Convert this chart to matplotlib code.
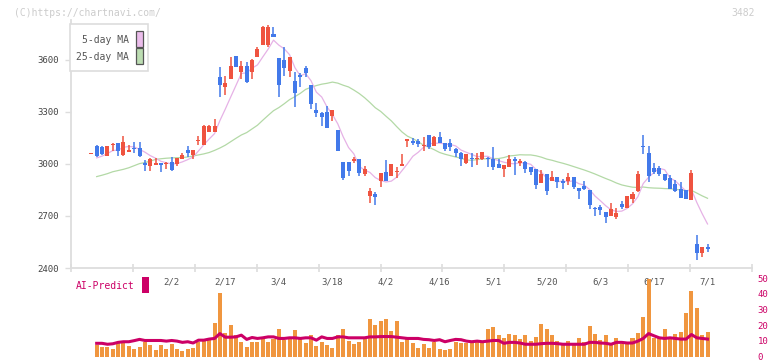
import matplotlib.pyplot as plt
import numpy as np
from matplotlib.patches import Rectangle

plt.rcParams['font.family'] = ['DejaVu Sans Mono']

# daily candles (index 0..115), 2/2 is index 15, labels every 10 sessions
opens = [3060, 3104, 3100, 3046, 3108, 3119, 3054, 3071, 3092, 3092,
         3002, 2988, 2996, 3002, 3002, 3011, 3000, 3031, 3081, 3054,
         3133, 3111, 3185, 3185, 3504, 3446, 3488, 3623, 3531, 3565,
         3531, 3619, 3685, 3688, 3750, 3611, 3600, 3538, 3481, 3511,
         3554, 3454, 3311, 3296, 3300, 3277, 3196, 3011, 3011, 3021,
         3031, 2942, 2815, 2827, 2904, 2954, 2931, 2955, 2988, 3138,
         3135, 3134, 3106, 3165, 3104, 3154, 3119, 3119, 3085, 3061,
         3008, 3033, 3029, 3027, 3033, 3031, 3000, 2973, 2985, 3025,
         3009, 3011, 2985, 2973, 2892, 2942, 2900, 2927, 2898, 2900,
         2923, 2861, 2873, 2850, 2744, 2750, 2723, 2700, 2692, 2769,
         2746, 2800, 2842, 3104, 3065, 2977, 2977, 2942, 2919, 2885,
         2854, 2850, 2792, 2538, 2488, 2523]
highs = [3062, 3110, 3104, 3106, 3123, 3119, 3161, 3110, 3127, 3127,
         3023, 3035, 3035, 3002, 3013, 3042, 3036, 3061, 3104, 3081,
         3161, 3223, 3223, 3258, 3561, 3508, 3615, 3623, 3592, 3585,
         3604, 3677, 3796, 3804, 3792, 3611, 3673, 3619, 3531, 3523,
         3565, 3454, 3350, 3302, 3335, 3311, 3196, 3011, 3011, 3042,
         3031, 2988, 2861, 2838, 2946, 3023, 3000, 2981, 3058, 3142,
         3150, 3146, 3154, 3165, 3161, 3185, 3119, 3142, 3092, 3069,
         3058, 3065, 3061, 3069, 3042, 3096, 3031, 2992, 3054, 3042,
         3031, 3019, 2985, 2973, 2965, 2942, 2958, 2927, 2911, 2946,
         2927, 2861, 2900, 2850, 2754, 2765, 2723, 2773, 2746, 2788,
         2815, 2838, 2961, 3169, 3104, 3008, 2988, 2942, 2938, 2908,
         2896, 2850, 2965, 2588, 2523, 2538]
lows = [3060, 3038, 3054, 3044, 3077, 3046, 3046, 3071, 3065, 3038,
        2961, 2961, 2992, 2954, 2973, 2961, 2988, 3031, 3042, 3031,
        3108, 3108, 3185, 3185, 3388, 3396, 3488, 3558, 3492, 3465,
        3492, 3619, 3685, 3677, 3731, 3388, 3508, 3504, 3327, 3446,
        3504, 3315, 3273, 3219, 3208, 3250, 3077, 2908, 2931, 3004,
        2931, 2931, 2777, 2765, 2869, 2904, 2931, 2919, 2988, 3096,
        3108, 3100, 3073, 3085, 3104, 3123, 3077, 3073, 3042, 2988,
        3000, 2985, 2996, 3023, 2985, 2965, 2977, 2927, 2985, 2938,
        2988, 2950, 2938, 2858, 2892, 2819, 2900, 2861, 2854, 2877,
        2854, 2800, 2850, 2742, 2700, 2708, 2661, 2700, 2685, 2738,
        2746, 2773, 2838, 3058, 2896, 2942, 2931, 2900, 2858, 2838,
        2804, 2796, 2792, 2446, 2465, 2492]
closes = [3062, 3046, 3058, 3104, 3115, 3077, 3127, 3081, 3088, 3046,
          2998, 3027, 3004, 2998, 3006, 2965, 3036, 3054, 3065, 3081,
          3137, 3219, 3219, 3219, 3458, 3465, 3565, 3558, 3562, 3473,
          3600, 3661, 3788, 3788, 3731, 3458, 3554, 3619, 3411, 3500,
          3523, 3346, 3292, 3269, 3208, 3311, 3077, 2919, 2961, 3023,
          2950, 2973, 2846, 2811, 2946, 2904, 3000, 2960, 3000, 3140,
          3119, 3115, 3108, 3100, 3154, 3123, 3088, 3096, 3061, 3031,
          3058, 3029, 3033, 3069, 3029, 2985, 2977, 2992, 3031, 3021,
          3013, 2969, 2954, 2881, 2942, 2846, 2927, 2896, 2894, 2927,
          2869, 2842, 2858, 2765, 2740, 2735, 2696, 2738, 2719, 2750,
          2815, 2827, 2942, 3100, 2931, 2954, 2942, 2908, 2858, 2846,
          2804, 2800, 2950, 2488, 2523, 2508]

# moving averages (index 1..115)
ma5 = [3035, 3045, 3060, 3077, 3080, 3096, 3101, 3098, 3084, 3068,
       3048, 3033, 3015, 3007, 3000, 3002, 3012, 3025, 3040, 3075,
       3111, 3144, 3175, 3250, 3316, 3385, 3453, 3522, 3525, 3552,
       3571, 3617, 3662, 3714, 3685, 3664, 3630, 3555, 3508, 3521,
       3480, 3414, 3386, 3328, 3285, 3231, 3157, 3095, 3058, 2986,
       2965, 2951, 2921, 2905, 2896, 2901, 2924, 2962, 3001, 3044,
       3067, 3096, 3116, 3119, 3120, 3115, 3112, 3104, 3080, 3067,
       3055, 3042, 3044, 3044, 3029, 3019, 3010, 3003, 3001, 3007,
       3005, 2998, 2968, 2952, 2918, 2910, 2898, 2901, 2898, 2903,
       2886, 2878, 2852, 2815, 2788, 2759, 2735, 2726, 2728, 2744,
       2770, 2811, 2887, 2923, 2951, 2974, 2967, 2919, 2902, 2872,
       2843, 2852, 2778, 2713, 2654]
ma25 = [2927, 2935, 2944, 2955, 2962, 2969, 2978, 2990, 3002, 3008,
        3016, 3026, 3030, 3033, 3035, 3036, 3037, 3040, 3046, 3052,
        3058, 3066, 3078, 3092, 3108, 3128, 3148, 3167, 3181, 3202,
        3223, 3252, 3280, 3307, 3325, 3347, 3371, 3388, 3407, 3430,
        3442, 3452, 3460, 3465, 3472, 3466, 3454, 3444, 3426, 3406,
        3382, 3354, 3324, 3303, 3275, 3248, 3215, 3184, 3160, 3146,
        3129, 3108, 3096, 3082, 3066, 3056, 3048, 3040, 3033, 3023,
        3021, 3025, 3029, 3030, 3031, 3031, 3037, 3046, 3049, 3053,
        3052, 3052, 3047, 3039, 3028, 3021, 3012, 3004, 2995, 2985,
        2975, 2965, 2954, 2942, 2929, 2916, 2904, 2890, 2879, 2872,
        2866, 2864, 2867, 2863, 2861, 2860, 2858, 2857, 2853, 2851,
        2846, 2848, 2832, 2816, 2802]

# lower panel (index 1..115)
volume = [7.3, 6.3, 6.1, 4.8, 8.6, 9.4, 6.7, 4.8, 6.1, 9.4,
          7.3, 4.2, 7.3, 4.8, 8.0, 4.8, 3.6, 4.8, 5.7, 9.4,
          9.8, 10.4, 21.4, 40.5, 15.2, 20.2, 14.0, 9.0, 6.1, 9.4,
          9.0, 11.5, 9.0, 11.1, 17.2, 10.4, 10.9, 16.6, 11.5, 8.4,
          13.6, 6.5, 9.0, 7.1, 5.3, 13.4, 17.7, 9.8, 7.8, 9.0,
          11.5, 23.9, 20.2, 22.7, 23.9, 16.5, 22.7, 9.0, 11.5, 8.4,
          5.3, 7.8, 5.3, 9.0, 4.7, 4.0, 4.7, 9.0, 8.4, 8.4,
          8.4, 9.0, 8.4, 17.7, 18.9, 14.0, 11.5, 14.6, 14.0, 10.9,
          13.4, 9.6, 12.7, 20.8, 17.7, 13.4, 9.6, 7.1, 9.6, 7.8,
          11.5, 9.0, 19.6, 14.6, 10.2, 14.0, 7.8, 12.1, 7.8, 7.8,
          12.1, 15.2, 25.2, 49.4, 11.5, 12.7, 17.7, 12.7, 14.6, 15.8,
          27.6, 41.9, 30.7, 13.4, 15.8]
ai_predict = [8.4, 8.4, 7.8, 8.1, 9.0, 9.4, 9.4, 10.1, 10.9, 10.2,
              10.2, 10.2, 10.2, 9.8, 10.2, 9.8, 9.0, 9.4, 8.6, 10.4,
              10.4, 11.1, 11.5, 14.6, 12.3, 12.3, 12.5, 13.6, 10.9, 12.1,
              11.5, 11.9, 12.5, 12.5, 11.5, 11.5, 11.9, 11.9, 11.5, 11.9,
              11.9, 10.4, 12.5, 11.5, 11.5, 12.5, 12.5, 11.9, 11.9, 11.9,
              11.9, 12.5, 12.5, 12.7, 12.7, 12.7, 12.3, 11.9, 11.5, 11.5,
              11.5, 10.9, 10.7, 10.2, 10.7, 9.4, 10.2, 10.9, 10.7, 9.8,
              9.4, 9.8, 9.4, 9.8, 10.2, 10.2, 8.4, 9.0, 9.0, 8.6,
              7.8, 7.8, 7.8, 8.2, 8.4, 8.4, 8.2, 7.8, 7.8, 7.8,
              7.8, 7.8, 9.0, 9.0, 8.6, 8.4, 7.8, 9.0, 9.0, 8.6,
              8.6, 9.8, 11.5, 14.6, 13.2, 11.9, 11.5, 11.9, 11.5, 11.1,
              11.1, 14.0, 11.9, 11.5, 11.1]

date_labels = ['2/2', '2/17', '3/4', '3/18', '4/2', '4/16',
               '5/1', '5/20', '6/3', '6/17', '7/1']
date_pos = [15, 25, 35, 45, 55, 65, 75, 85, 95, 105, 115]

RED = '#EF5340'
BLUE = '#4279EA'
PINK = '#E6B2E6'
GREEN = '#B3D9A6'
CRIMSON = '#CC0066'
ORANGE = '#F0963F'
GRID = '#dddddd'

W, H = 772, 361
fig = plt.figure(figsize=(W / 100, H / 100), dpi=100)


def rect(l, t, r, b):
    return [l / W, 1 - b / H, (r - l) / W, (b - t) / H]


def fx(px):
    return px / W


def fy(py):
    return 1 - py / H


xlo, xhi = -3.79, 123.3

# price panel
ax = fig.add_axes(rect(71, 20, 752, 268))
ax.set_xlim(xlo, xhi)
ax.set_ylim(2400, 3830)

o = np.array(opens, float)
h = np.array(highs, float)
l = np.array(lows, float)
c = np.array(closes, float)
x = np.arange(len(c))
cols = np.where(c >= o, RED, BLUE)
body = np.maximum(np.abs(c - o), 8)
bottom = (o + c) / 2 - body / 2

ma_x = np.arange(1, len(c))
ax.plot(ma_x, ma25, color=GREEN, lw=0.9, zorder=2)
ax.plot(ma_x, ma5, color=PINK, lw=0.9, zorder=2)
ax.vlines(x, l, h, colors=cols, linewidth=1.1, zorder=3)
ax.bar(x, body, bottom=bottom, width=0.75, color=cols, linewidth=0, zorder=3)

for s in ['top', 'right']:
    ax.spines[s].set_visible(False)
for s in ['left', 'bottom']:
    ax.spines[s].set_color(GRID)
    ax.spines[s].set_linewidth(1.3)

ax.set_yticks([2400, 2700, 3000, 3300, 3600])
ax.tick_params(axis='y', length=4.5, width=1, color=GRID, pad=4,
               labelsize=6.5, labelcolor='#444444')
ax.set_xticks(date_pos)
ax.set_xticklabels(date_labels)
ax.set_xticks(np.linspace(xlo, xhi, 12), minor=True)
ax.tick_params(axis='x', which='major', length=0, pad=7,
               labelsize=6.5, labelcolor='#555555')
ax.tick_params(axis='x', which='minor', length=6, width=1.2,
               color=GRID, direction='inout')

# lower panel
axv = fig.add_axes(rect(71, 278, 752, 356.5))
axv.set_xlim(xlo, xhi)
axv.set_ylim(0, 50)
axv.patch.set_alpha(0)
axv.bar(ma_x, volume, width=0.75, color=ORANGE, linewidth=0)
axv.plot(ma_x, ai_predict, color=CRIMSON, lw=2.2)
for s in axv.spines.values():
    s.set_visible(False)
axv.set_xticks([])
axv.yaxis.tick_right()
axv.set_yticks([0, 10, 20, 30, 40, 50])
axv.tick_params(axis='y', length=0, pad=4, labelsize=6.5, labelcolor=CRIMSON)

# header texts
fig.text(fx(14), fy(12.5), '(C)https://chartnavi.com/', fontsize=7,
         color='#cccccc', va='center')
fig.text(fx(755), fy(12.5), '3482', fontsize=7, color='#cccccc',
         ha='right', va='center')

# legend
fig.add_artist(Rectangle((fx(70), fy(71)), 78 / W, 47 / H,
                         transform=fig.transFigure, fc='white',
                         ec=GRID, lw=1.2, zorder=5))
fig.text(fx(129), fy(40), '5-day MA', fontsize=7, color='#555555',
         ha='right', va='center', zorder=6)
fig.text(fx(129), fy(57), '25-day MA', fontsize=7, color='#555555',
         ha='right', va='center', zorder=6)
fig.add_artist(Rectangle((fx(136), fy(46.5)), 6.5 / W, 15.5 / H,
                         transform=fig.transFigure, fc='#EBBDEB',
                         ec='#555555', lw=0.9, zorder=6))
fig.add_artist(Rectangle((fx(136), fy(64)), 6.5 / W, 15.5 / H,
                         transform=fig.transFigure, fc='#BCDDB2',
                         ec='#555555', lw=0.9, zorder=6))

fig.text(fx(76), fy(286), 'AI-Predict', fontsize=7, color=CRIMSON,
         va='center')
fig.add_artist(Rectangle((fx(142), fy(293)), 7 / W, 16 / H,
                         transform=fig.transFigure, fc=CRIMSON, ec='none'))

fig.savefig('out.png', dpi=100)
